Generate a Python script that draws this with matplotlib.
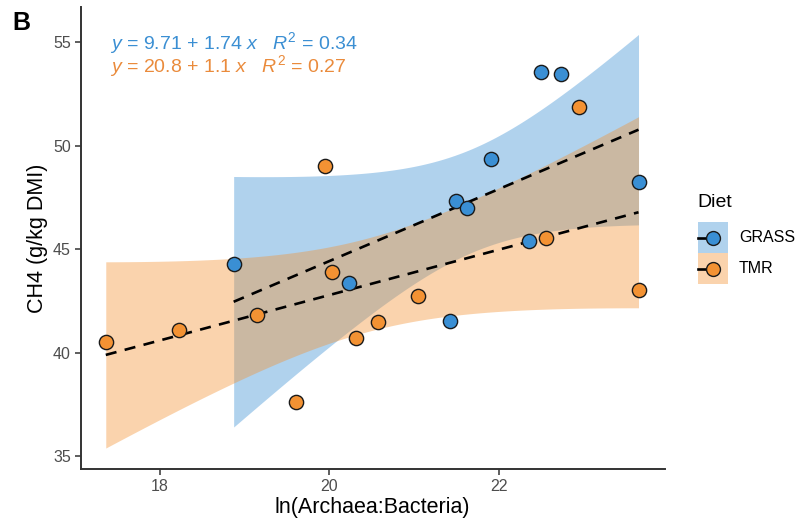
import numpy as np
import matplotlib
matplotlib.use("Agg")
import matplotlib.pyplot as plt
from matplotlib.patches import Rectangle
from matplotlib.lines import Line2D
from matplotlib.legend_handler import HandlerBase

plt.rcParams['font.family'] = ['Liberation Sans', 'DejaVu Sans']
plt.rcParams['mathtext.fontset'] = 'custom'
plt.rcParams['mathtext.rm'] = 'Liberation Sans'
plt.rcParams['mathtext.it'] = 'Liberation Sans:italic'

# ---- data ----
grass_x = [18.87, 20.23, 21.42, 21.50, 21.63, 21.91, 22.50, 22.74, 22.36, 23.65]
grass_y = [44.29, 43.36, 41.51, 47.33, 46.98, 49.34, 53.53, 53.44, 45.41, 48.23]
tmr_x = [17.36, 18.23, 19.14, 19.95, 20.03, 20.32, 19.61, 20.57, 21.05, 22.56, 22.95, 23.65]
tmr_y = [40.50, 41.08, 41.80, 49.03, 43.89, 40.69, 37.62, 41.48, 42.75, 45.54, 51.88, 43.04]
groups = ["GRASS", "TMR"]
eq_labels = ["9.71 + 1.74", "20.8 + 1.1"]
r2_labels = ["0.34", "0.27"]
t975 = {8: 2.306, 10: 2.228}

point_colors = {"GRASS": "#3a8fd4", "TMR": "#f39233"}
ribbon_colors = {"GRASS": "#3a8fd4", "TMR": "#f39233"}
text_colors = {"GRASS": "#3b8fd3", "TMR": "#ea8b3c"}
DASH = (0, (4.2, 3.2))

fig = plt.figure(figsize=(7.99, 5.21), dpi=100)
ax = fig.add_axes([0.101, 0.099, 0.731, 0.888])

data = {"GRASS": (np.array(grass_x), np.array(grass_y)),
        "TMR": (np.array(tmr_x), np.array(tmr_y))}

for g in groups:
    x, y = data[g]
    n = len(x)
    b, a = np.polyfit(x, y, 1)
    xs = np.linspace(x.min(), x.max(), 120)
    yh = a + b * xs
    res = y - (a + b * x)
    s = np.sqrt(np.sum(res ** 2) / (n - 2))
    sxx = np.sum((x - x.mean()) ** 2)
    se = s * np.sqrt(1.0 / n + (xs - x.mean()) ** 2 / sxx)
    hw = t975[n - 2] * se
    ax.fill_between(xs, yh - hw, yh + hw, color=ribbon_colors[g], alpha=0.4,
                    linewidth=0, zorder=1)
    ax.plot(xs, yh, color="black", lw=1.9, linestyle=DASH, zorder=1.5)

for g in groups:
    x, y = data[g]
    ax.scatter(x, y, s=105, color=point_colors[g], edgecolor="#1a1a1a",
               linewidth=1.0, zorder=5)

ax.set_xlim(17.064, 23.96)
ax.set_ylim(34.36, 56.70)
ax.set_xticks([18, 20, 22])
ax.set_yticks([35, 40, 45, 50, 55])
for sp in ["top", "right"]:
    ax.spines[sp].set_visible(False)
for sp in ["left", "bottom"]:
    ax.spines[sp].set_color("#333333")
    ax.spines[sp].set_linewidth(1.4)
ax.tick_params(axis="both", colors="#333333", length=4, width=1.1,
               labelsize=11.5, labelcolor="#4d4d4d", pad=3)
ax.set_xlabel("ln(Archaea:Bacteria)", fontsize=15.5, color="black", labelpad=2)
ax.set_ylabel("CH4 (g/kg DMI)", fontsize=15.5, color="black", labelpad=4)

ys_text = [54.67, 53.55]
for g, eq, r2, yt in zip(groups, eq_labels, r2_labels, ys_text):
    ax.text(17.41, yt, r"$y$ = " + eq + r" $x$   $R^2$ = " + r2,
            color=text_colors[g], fontsize=14, ha="left", va="baseline")


class KeyHandler(HandlerBase):
    def create_artists(self, legend, orig_handle, xdescent, ydescent,
                       width, height, fontsize, trans):
        fc, mc = orig_handle
        rect = Rectangle((-xdescent, -ydescent), width, height,
                         facecolor=fc, alpha=0.4, edgecolor="none",
                         transform=trans)
        cy = -ydescent + height / 2
        cx = -xdescent + width / 2
        ln = Line2D([-xdescent, cx], [cy, cy], color="black", lw=1.9,
                    transform=trans)
        mk = Line2D([cx], [cy], linestyle="none", marker="o", markersize=10,
                    markerfacecolor=mc, markeredgecolor="#1a1a1a",
                    markeredgewidth=1.0, transform=trans)
        return [rect, ln, mk]


handles = [(ribbon_colors[g], point_colors[g]) for g in groups]
leg = fig.legend(handles, groups, title="Diet", loc="center left",
                 bbox_to_anchor=(693 / 799, 1 - 239 / 521),
                 bbox_transform=fig.transFigure, frameon=False, fontsize=11.5,
                 title_fontsize=14, handlelength=1.88, handleheight=2.61,
                 labelspacing=0.0, handletextpad=0.7, borderpad=0.3,
                 borderaxespad=0.0,
                 handler_map={tuple: KeyHandler()})
leg._legend_box.align = "left"
leg._legend_box.sep = 8

fig.text(12 / 799, 1 - 30 / 521, "B", fontsize=18, fontweight="bold",
         ha="left", va="baseline")

fig.savefig("out.png", dpi=100)
